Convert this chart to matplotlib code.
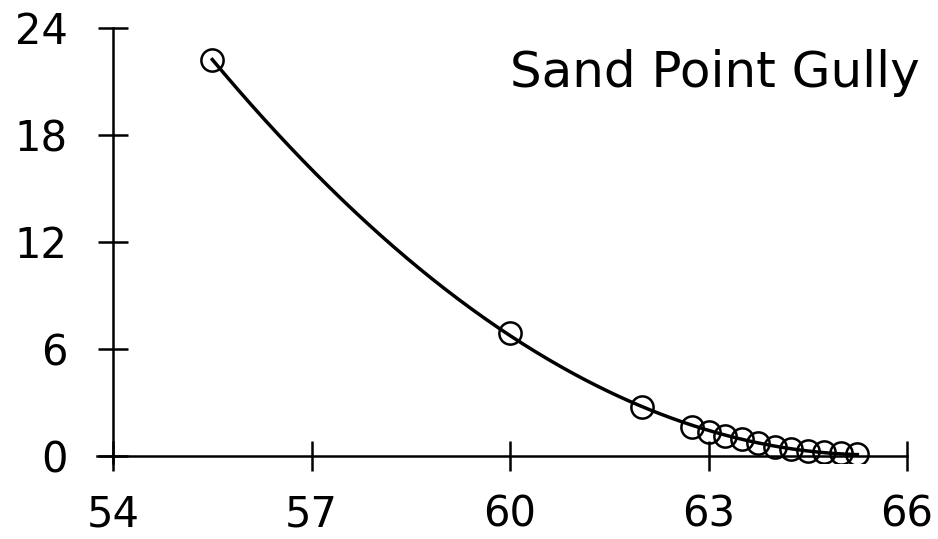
import numpy as np
import matplotlib
matplotlib.use("Agg")
import matplotlib.pyplot as plt

# Data
x_vals = [55.5, 60.0, 62.0, 62.75, 63.0, 63.25, 63.5, 63.75, 64.0, 64.25, 64.5, 64.75, 65.0, 65.25]
y_vals = [22.2, 6.9, 2.75, 1.64, 1.36, 1.12, 0.93, 0.74, 0.52, 0.36, 0.30, 0.22, 0.16, 0.10]
x_ticks = [54, 57, 60, 63, 66]
y_ticks = [0, 6, 12, 18, 24]
title_text = "Sand Point Gully"

W, H = 938, 539
fig = plt.figure(figsize=(W / 100, H / 100), dpi=100)
left_px, right_px = 96.5, 907
top_px, bot_px = 28, 463
ax = fig.add_axes([left_px / W, 1 - bot_px / H, (right_px - left_px) / W, (bot_px - top_px) / H])

x = np.array(x_vals)
y = np.array(y_vals)
coef = np.polyfit(x, y, 2)
xf = np.linspace(x.min(), x.max(), 300)
ax.plot(xf, np.polyval(coef, xf), color="black", lw=2.5, zorder=2)
ax.plot(x, y, linestyle="none", marker="o", markersize=16, markerfacecolor="none",
        markeredgecolor="black", markeredgewidth=1.8, zorder=3)

ax.set_xlim(53.75, 66)
ax.set_ylim(-0.4, 24)
ax.spines["left"].set_position(("data", 54))
ax.spines["bottom"].set_position(("data", 0))
ax.spines["right"].set_visible(False)
ax.spines["top"].set_visible(False)
for s in ("left", "bottom"):
    ax.spines[s].set_linewidth(1.8)
ax.set_xticks(x_ticks)
ax.set_yticks(y_ticks)
ax.tick_params(axis="x", direction="inout", length=21.6, width=1.8, pad=16)
ax.tick_params(axis="y", direction="inout", length=21.6, width=1.8, pad=22)
ax.set_xticklabels([str(t) for t in x_ticks], fontsize=30, family="DejaVu Sans")
ax.set_yticklabels([str(t) for t in y_ticks], fontsize=30, family="DejaVu Sans")
ax.text(920 / W, 1 - 87 / H, title_text, transform=fig.transFigure, ha="right", va="baseline",
        fontsize=36, family="DejaVu Sans")
ax.patch.set_visible(False)

fig.savefig("out.png", dpi=100)
